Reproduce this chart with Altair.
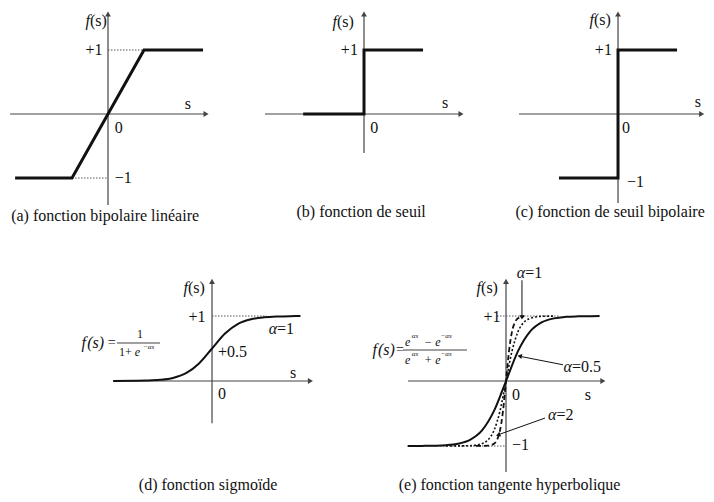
import altair as alt
import pandas as pd

SERIF = "'Liberation Serif', 'Times New Roman', 'DejaVu Serif', serif"
INK = "#111111"
AXIS = "#444444"

# ---------------- data ----------------
# (a) fonction bipolaire linéaire
a_s = [-2.58, -1.0, 1.0, 2.64]
a_f = [-1, -1, 1, 1]
# (b) fonction de seuil
b_s = [-1.69, 0, 0, 1.64]
b_f = [0, 0, 1, 1]
# (c) fonction de seuil bipolaire
c_s = [-1.64, 0, 0, 1.64]
c_f = [-1, -1, 1, 1]
# (d) fonction sigmoïde, alpha = 1
d_s = [-7.6, -6, -5, -4, -3, -2, -1, 0, 1, 2, 3, 4, 5, 6, 6.8]
d_f = [0.0, 0.003, 0.007, 0.018, 0.047, 0.12, 0.27, 0.5, 0.73, 0.88, 0.95, 0.98, 0.993, 0.998, 0.999]
# (e) fonction tangente hyperbolique
e05_s = [-8.2, -7, -6, -5, -4, -3, -2, -1, 0, 1, 2, 3, 4, 5, 6, 7, 7.8]
e05_f = [-1.0, -0.998, -0.995, -0.987, -0.964, -0.905, -0.76, -0.46, 0, 0.46, 0.76, 0.905, 0.964, 0.987, 0.995, 0.998, 0.999]
e1_s = [-5, -4, -3, -2, -1.5, -1, -0.5, 0, 0.5, 1, 1.5, 2, 3, 4]
e1_f = [-0.999, -0.998, -0.995, -0.964, -0.905, -0.76, -0.46, 0, 0.46, 0.76, 0.905, 0.964, 0.995, 0.999]
e2_s = [-2.5, -2, -1.5, -1, -0.75, -0.5, -0.25, 0, 0.25, 0.5, 0.75, 1, 1.5]
e2_f = [-0.999, -0.998, -0.995, -0.964, -0.905, -0.76, -0.46, 0, 0.46, 0.76, 0.905, 0.964, 0.995]

captions = ["(a) fonction bipolaire linéaire", "(b) fonction de seuil",
            "(c) fonction de seuil bipolaire", "(d) fonction sigmoïde",
            "(e) fonction tangente hyperbolique"]

FS = 16      # label font size
CAP = 16     # caption font size


# ---------------- helpers ----------------
def X(dom):
    return alt.X("x:Q", scale=alt.Scale(domain=dom, nice=False, zero=False), axis=None)


def Y(dom):
    return alt.Y("y:Q", scale=alt.Scale(domain=dom, nice=False, zero=False), axis=None)


def curve(xs, ys, xd, yd, width, dash=None, interp="linear"):
    df = pd.DataFrame({"x": xs, "y": ys, "i": list(range(len(xs)))})
    kw = dict(color=INK, strokeWidth=width, interpolate=interp)
    if dash:
        kw["strokeDash"] = dash
    return alt.Chart(df).mark_line(**kw).encode(x=X(xd), y=Y(yd), order="i:Q")


def segs(rows, xd, yd, width, color, dash=None):
    df = pd.DataFrame(rows, columns=["x", "y", "x2", "y2"])
    kw = dict(color=color, strokeWidth=width)
    if dash:
        kw["strokeDash"] = dash
    return alt.Chart(df).mark_rule(**kw).encode(x=X(xd), y=Y(yd), x2="x2:Q", y2="y2:Q")


def heads(rows, xd, yd, size=34, color=AXIS):
    df = pd.DataFrame(rows, columns=["x", "y", "a"])
    return alt.Chart(df).mark_point(shape="triangle", filled=True, size=size, color=color,
                                    opacity=1).encode(
        x=X(xd), y=Y(yd), angle=alt.Angle("a:Q", scale=None))


def texts(rows, xd, yd, size, align="center", italic=False):
    df = pd.DataFrame(rows, columns=["x", "y", "t"])
    kw = dict(align=align, baseline="middle", font=SERIF, fontSize=size, color=INK)
    if italic:
        kw["fontStyle"] = "italic"
    return alt.Chart(df).mark_text(**kw).encode(x=X(xd), y=Y(yd), text="t:N")


def fs_label(x, y, xd, yd, size=FS):
    return [texts([(x, y, "f")], xd, yd, size, "right", True),
            texts([(x, y, "(s)")], xd, yd, size, "left")]


def alpha_label(x, y, rest, xd, yd, size=FS):
    return [texts([(x, y, "α")], xd, yd, size, "right", True),
            texts([(x, y, rest)], xd, yd, size, "left")]


# ---------------- top row ----------------
YT = [-1.781, 1.656]
HT = 220

xa = [-2.778, 3.556]
pa = alt.layer(
    segs([(-2.72, 0, 2.7, 0), (0, -1.42, 0, 1.55)], xa, YT, 1.2, AXIS),
    heads([(2.7, 0, 90), (0, 1.55, 0)], xa, YT),
    segs([(0, 1, 1, 1), (-1, -1, 0, -1)], xa, YT, 1, "#555555", [1.5, 1.5]),
    curve(a_s, a_f, xa, YT, 3),
    *fs_label(-0.5, 1.45, xa, YT),
    texts([(-0.15, 1.0, "+1")], xa, YT, FS, "right"),
    texts([(0.19, -0.22, "0"), (0.19, -1.0, "−1")], xa, YT, FS, "left"),
    texts([(2.22, 0.16, "s")], xa, YT, FS),
    texts([(-0.08, -1.6, captions[0])], xa, YT, CAP),
).properties(width=228, height=HT)

xb = [-3.556, 3.5]
pb = alt.layer(
    segs([(-2.75, 0, 2.67, 0), (0, -0.61, 0, 1.55)], xb, YT, 1.2, AXIS),
    heads([(2.67, 0, 90), (0, 1.55, 0)], xb, YT),
    curve(b_s, b_f, xb, YT, 3),
    *fs_label(-0.75, 1.44, xb, YT),
    texts([(-0.17, 1.0, "+1")], xb, YT, FS, "right"),
    texts([(0.17, -0.22, "0")], xb, YT, FS, "left"),
    texts([(2.25, 0.17, "s")], xb, YT, FS),
    texts([(-0.08, -1.53, captions[1])], xb, YT, CAP),
).properties(width=254, height=HT)

xc = [-3.556, 2.444]
pc = alt.layer(
    segs([(-2.75, 0, 2.3, 0), (0, -1.39, 0, 1.55)], xc, YT, 1.2, AXIS),
    heads([(2.3, 0, 90), (0, 1.55, 0)], xc, YT),
    curve(c_s, c_f, xc, YT, 3),
    *fs_label(-0.67, 1.47, xc, YT),
    texts([(-0.17, 1.0, "+1")], xc, YT, FS, "right"),
    texts([(0.11, -0.22, "0"), (0.25, -1.06, "−1")], xc, YT, FS, "left"),
    texts([(2.22, 0.19, "s")], xc, YT, FS),
    texts([(2.41, -1.53, captions[2])], xc, YT, CAP, "right"),
).properties(width=216, height=HT)

# ---------------- bottom row ----------------
YB = [-1.738, 2.354]
HB = 266

xd_ = [-15.69, 11.38]
pd_ = alt.layer(
    segs([(-7.6, 0, 7.5, 0), (0, -0.65, 0, 1.52)], xd_, YB, 1.2, AXIS),
    heads([(7.5, 0, 90), (0, 1.52, 0)], xd_, YB),
    segs([(0, 1, 4.2, 1)], xd_, YB, 1, "#555555", [1.5, 1.5]),
    curve(d_s, d_f, xd_, YB, 2, interp="monotone"),
    *fs_label(-1.85, 1.43, xd_, YB),
    texts([(-0.5, 0.98, "+1")], xd_, YB, FS, "right"),
    *alpha_label(5.0, 0.80, "=1", xd_, YB),
    texts([(0.46, 0.45, "+0.5"), (0.46, -0.2, "0")], xd_, YB, FS, "left"),
    texts([(6.23, 0.12, "s")], xd_, YB, FS),
    texts([(-0.3, -1.6, captions[3])], xd_, YB, CAP),
    # formula f(s) = 1 / (1 + e^{-as})
    texts([(-9.69, 0.585, "f")], xd_, YB, 16, "right", True),
    texts([(-9.6, 0.585, "(s)")], xd_, YB, 16, "left", True),
    texts([(-7.72, 0.585, "=")], xd_, YB, 14),
    segs([(-7.31, 0.585, -4.0, 0.585)], xd_, YB, 0.8, INK),
    texts([(-5.54, 0.73, "1")], xd_, YB, 12),
    texts([(-7.15, 0.44, "1+")], xd_, YB, 12, "left"),
    texts([(-5.95, 0.44, "e")], xd_, YB, 12, "left", True),
    texts([(-5.3, 0.52, "−αs")], xd_, YB, 7, "left", True),
).properties(width=352, height=HB)

xe = [-12.17, 16.67]
pe = alt.layer(
    segs([(-8.17, 0, 8.0, 0), (0, -1.4, 0, 1.52)], xe, YB, 1.2, AXIS),
    heads([(8.0, 0, 90), (0, 1.52, 0)], xe, YB),
    segs([(-0.75, 1, 4.5, 1), (-8.0, -1, 0, -1)], xe, YB, 1, "#555555", [1.5, 1.5]),
    curve(e05_s, e05_f, xe, YB, 2, interp="monotone"),
    curve(e1_s, e1_f, xe, YB, 1.6, dash=[2, 2], interp="monotone"),
    curve(e2_s, e2_f, xe, YB, 1.8, dash=[5, 3], interp="monotone"),
    # arrows to the alpha labels
    segs([(1.33, 1.55, 1.33, 1.0), (4.75, 0.25, 1.3, 0.375), (3.25, -0.57, -0.55, -0.82)],
         xe, YB, 1, INK),
    heads([(1.33, 0.99, 180), (1.2, 0.38, 281), (-0.6, -0.825, 250)], xe, YB, 26, INK),
    *fs_label(-2.08, 1.43, xe, YB),
    texts([(-0.45, 0.98, "+1")], xe, YB, FS, "right"),
    *alpha_label(1.6, 1.66, "=1", xe, YB),
    *alpha_label(4.2, -0.52, "=2", xe, YB),
    *alpha_label(5.5, 0.22, "=0.5", xe, YB),
    texts([(0.5, -0.22, "0"), (0.5, -0.98, "−1")], xe, YB, FS, "left"),
    texts([(6.83, -0.22, "s")], xe, YB, FS),
    texts([(0.3, -1.6, captions[4])], xe, YB, CAP),
    # formula f(s) = (e^{as} - e^{-as}) / (e^{as} + e^{-as})
    texts([(-10.75, 0.477, "f")], xe, YB, 16, "right", True),
    texts([(-10.67, 0.477, "(s)")], xe, YB, 16, "left", True),
    texts([(-8.83, 0.477, "=")], xe, YB, 14),
    segs([(-8.58, 0.477, -3.25, 0.477)], xe, YB, 0.8, INK),
    texts([(-8.42, 0.6, "e"), (-6.83, 0.6, "− e"),
           (-8.42, 0.33, "e"), (-6.83, 0.33, "+ e")], xe, YB, 12, "left", True),
    texts([(-7.85, 0.69, "αs"), (-5.45, 0.69, "−αs"),
           (-7.85, 0.42, "αs"), (-5.45, 0.42, "−αs")], xe, YB, 7, "left", True),
).properties(width=346, height=HB)

top = alt.hconcat(pa, pb, pc, spacing=0)
bottom = alt.hconcat(pd_, pe, spacing=0)
chart = alt.vconcat(top, bottom, spacing=0).properties(
    padding=0, background="white"
).configure_view(stroke=None)

chart.save("out.html", embed_options={"renderer": "svg", "actions": False})
